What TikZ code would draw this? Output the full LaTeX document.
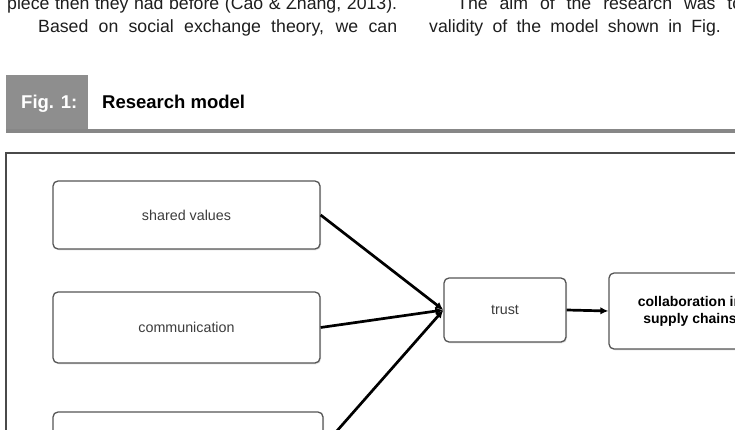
\documentclass[tikz,border=0pt]{standalone}
\usepackage{fontspec}
\setmainfont{Liberation Sans}
\usetikzlibrary{arrows.meta,shadows}
\definecolor{bodytxt}{HTML}{1E1E1E}
\definecolor{lbl}{HTML}{3C3C3C}
\definecolor{boxc}{HTML}{555555}
\definecolor{hdrgray}{HTML}{8E8E8E}
\definecolor{framec}{HTML}{4A4A4A}
\begin{document}
\begin{tikzpicture}[x=1pt,y=-1pt,
  bodyline/.style={anchor=base west, inner sep=0pt, text=bodytxt, font=\fontsize{17.7}{20}\selectfont},
  box/.style={draw=boxc, line width=1.3pt, rounded corners=5pt, fill=white,
    drop shadow={shadow xshift=1pt, shadow yshift=-1.3pt, opacity=0.22},
    inner sep=0pt, align=center, text=lbl, font=\fontsize{14.3}{17}\selectfont},
  conn/.style={line width=2.7pt, black, -{Latex[length=8pt,width=7.5pt]}}]
\useasboundingbox (0,0) rectangle (735,430);
\clip (0,0) rectangle (735,430);
\fill[white] (0,0) rectangle (735,430);

% body text above the figure
\node[bodyline] (l1) at (7,10) {\makebox[390pt][s]{piece then they had before (Cao \& Zhang, 2013).}};
\node[bodyline] (l2) at (38,33) {\makebox[359pt][s]{Based on social exchange theory, we can}};
\node[bodyline] (r1) at (457,10) {\makebox[285pt][s]{The aim of the research was to}};
\node[bodyline] (r2) at (429,33) {\makebox[326pt][s]{validity of the model shown in Fig. 1.}};

% figure header
\fill[hdrgray] (6,75) rectangle (88,129);
\fill[hdrgray!95!black] (6,129) rectangle (735,133.5);
\node[anchor=base west, inner sep=0pt, text=white, font=\bfseries\fontsize{18.5}{20}\selectfont] (fig) at (21,108.6) {Fig. 1:};
\node[anchor=base west, inner sep=0pt, text=black, font=\bfseries\fontsize{18.5}{20}\selectfont] (title) at (102,108.6) {Research model};

% frame
\draw[framec, line width=1.4pt] (6,900) -- (6,153) -- (900,153);

% boxes
\node[box, minimum width=267pt, minimum height=68pt] (sv) at (186.5,215) {shared values};
\node[box, minimum width=267pt, minimum height=71pt] (com) at (186.5,327.5) {communication};
\node[box, minimum width=270pt, minimum height=68pt] (third) at (188,446) {};
\node[box, minimum width=122pt, minimum height=64pt] (trust) at (505,310) {trust};
\node[box, minimum width=162pt, minimum height=76pt, text=black, font=\bfseries\fontsize{14}{17}\selectfont] (collab) at (690,311) {collaboration in\\supply chains};

% connectors
\draw[conn] (sv.east) -- (trust.west);
\draw[conn] (com.east) -- (trust.west);
\draw[conn] (third.east) -- (trust.west);
\draw[conn] (trust.east) -- (collab.west);
\end{tikzpicture}
\end{document}
